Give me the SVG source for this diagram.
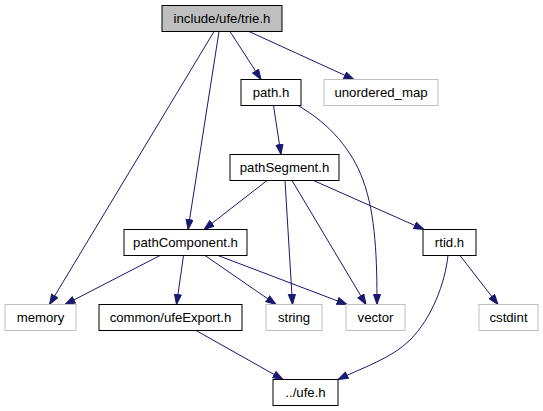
<svg xmlns="http://www.w3.org/2000/svg" width="543" height="411" viewBox="0 0 543 411">
<style>
  .box { fill: #ffffff; stroke: #000000; stroke-width: 1; }
  .main { fill: #bfbfbf; stroke: #000000; stroke-width: 1; }
  .ext { fill: #ffffff; stroke: #bfbfbf; stroke-width: 1; }
  text { font-family: "Liberation Sans", Arial, sans-serif; font-size: 13.2px; fill: #000000; text-anchor: middle; }
  .edge { fill: none; stroke: #191970; stroke-width: 1; marker-end: url(#arr); }
</style>
<defs>
  <marker id="arr" markerUnits="userSpaceOnUse" markerWidth="12" markerHeight="10" refX="10.5" refY="4" orient="auto">
    <path d="M0.5,0.5 L10.5,4 L0.5,7.5 Z" fill="#191970" stroke="#191970" stroke-width="1"/>
  </marker>
</defs>
<rect width="543" height="411" fill="#ffffff"/>
<g id="connectors">
  <path class="edge" d="M214,31.5 L49.5,304.5"/>
  <path class="edge" d="M219,31.5 L188,229.5"/>
  <path class="edge" d="M230,31.5 L261,79.5"/>
  <path class="edge" d="M249,31.5 L354,79.5"/>
  <path class="edge" d="M273.5,105.5 L281,154.5"/>
  <path class="edge" d="M298,105.5 C330,124 352,150 363,180 C376,215 377,262 377,304.5"/>
  <path class="edge" d="M267,180.5 L204,229.5"/>
  <path class="edge" d="M285,180.5 L292.5,304.5"/>
  <path class="edge" d="M292,180.5 L366,304.5"/>
  <path class="edge" d="M313.5,180.5 L424,229.5"/>
  <path class="edge" d="M160,255.5 L65,304.5"/>
  <path class="edge" d="M183.5,255.5 L176.5,304.5"/>
  <path class="edge" d="M205,255.5 L276,304.5"/>
  <path class="edge" d="M218,255.5 L347,304.5"/>
  <path class="edge" d="M460,255.5 L498,304.5"/>
  <path class="edge" d="M448,255.5 C445,283 432,318 410,340 C392,358 362,368 338,379.5"/>
  <path class="edge" d="M196,330.5 L283,379.5"/>
</g>
<g id="node-trie"><rect class="main" x="162" y="5.5" width="120" height="26"/><text x="222" y="23">include/ufe/trie.h</text></g>
<g id="node-path"><rect class="box" x="241" y="79.5" width="60" height="26"/><text x="271" y="97">path.h</text></g>
<g id="node-unordered_map"><rect class="ext" x="324" y="79.5" width="114" height="26"/><text x="381" y="97">unordered_map</text></g>
<g id="node-pathSegment"><rect class="box" x="230" y="154.5" width="109" height="26"/><text x="284.5" y="172">pathSegment.h</text></g>
<g id="node-pathComponent"><rect class="box" x="124" y="229.5" width="123" height="26"/><text x="185.5" y="247">pathComponent.h</text></g>
<g id="node-rtid"><rect class="box" x="423" y="229.5" width="53" height="26"/><text x="449.5" y="247">rtid.h</text></g>
<g id="node-memory"><rect class="ext" x="5" y="304.5" width="71" height="26"/><text x="40.5" y="322">memory</text></g>
<g id="node-ufeExport"><rect class="box" x="99" y="304.5" width="143" height="26"/><text x="170.5" y="322">common/ufeExport.h</text></g>
<g id="node-string"><rect class="ext" x="266" y="304.5" width="56" height="26"/><text x="294" y="322">string</text></g>
<g id="node-vector"><rect class="ext" x="346" y="304.5" width="59" height="26"/><text x="375.5" y="322">vector</text></g>
<g id="node-cstdint"><rect class="ext" x="479" y="304.5" width="59" height="26"/><text x="508.5" y="322">cstdint</text></g>
<g id="node-ufe"><rect class="box" x="273" y="379.5" width="65" height="26"/><text x="305.5" y="397">../ufe.h</text></g>
</svg>
